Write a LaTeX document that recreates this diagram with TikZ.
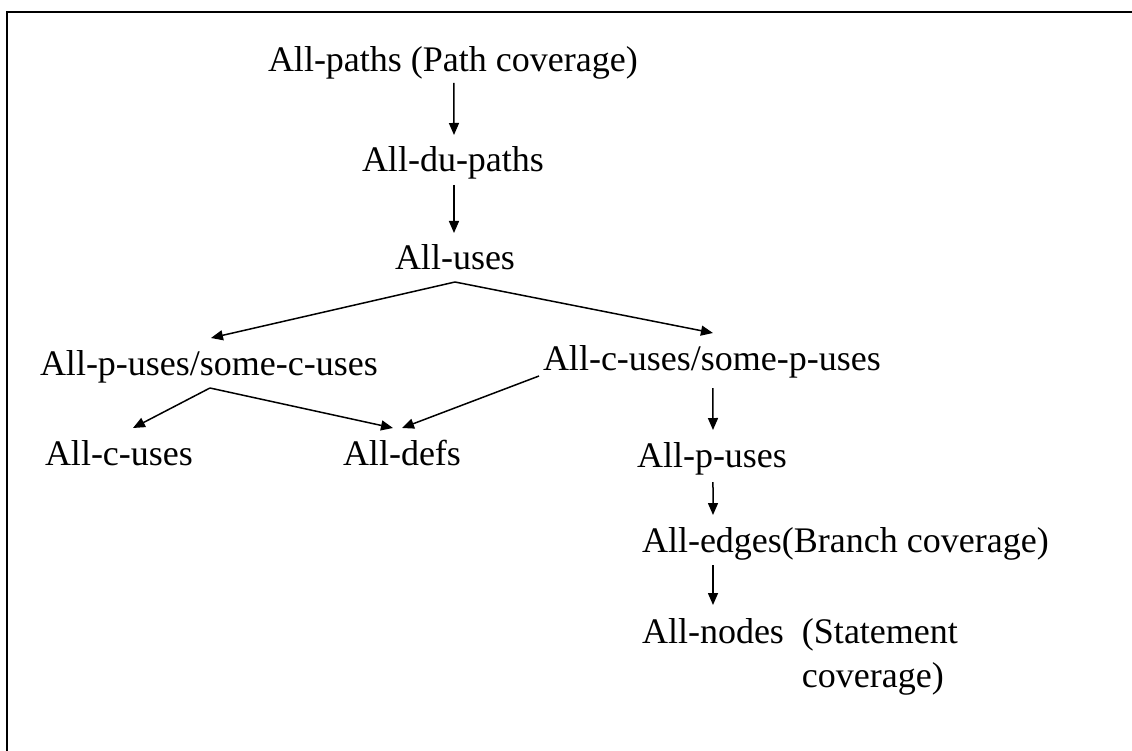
\documentclass[tikz,border=0pt]{standalone}
\usepackage{fontspec}
\setmainfont{Liberation Serif}
\usetikzlibrary{arrows.meta,calc}
\tikzset{
  lbl/.style={anchor=base west, inner sep=0pt, outer sep=0pt, font=\fontsize{36}{44}\selectfont},
  arr/.style={line width=1.5pt, -{Triangle[length=12pt,width=10pt]}},
  frame/.style={line width=1.7pt}
}
\begin{document}
\begin{tikzpicture}[x=1pt,y=-1pt]
\useasboundingbox (0,0) rectangle (1132,751);
% frame (only top and left edges visible)
\coordinate (fl) at (7,751);
\coordinate (fc) at (7,12);
\coordinate (fr) at (1132,12);
\draw[frame] (fl) -- (fc) -- (fr);

\node[lbl] (paths) at (268,72) {All-paths (Path coverage)};
\node[lbl] (du) at (362,172) {All-du-paths};
\node[lbl] (uses) at (395,270) {All-uses};
\node[lbl] (pc) at (40,375) {All-p-uses/some-c-uses};
\node[lbl] (cp) at (543,370) {All-c-uses/some-p-uses};
\node[lbl] (cu) at (45,465) {All-c-uses};
\node[lbl] (defs) at (343,465) {All-defs};
\node[lbl] (pu) at (637,467) {All-p-uses};
\node[lbl] (edges) at (642,552) {All-edges(Branch coverage)};
\node[lbl] (allnodes) at (642,643) {\begin{tabular}[t]{@{}l@{\hspace{18pt}}l@{}}All-nodes & (Statement\\ & coverage)\end{tabular}};

\draw[arr] ($(paths.base)+(1,11)$) -- ($(du.base)+(1,-37)$);
\draw[arr] ($(du.base)+(1,13)$) -- ($(du.base)+(1,61)$);
\draw[arr] ($(uses.base)+(0,12)$) -- ($(pc.base)+(2,-37)$);
\draw[arr] ($(uses.base)+(0,12)$) -- ($(cp.base)+(1,-37)$);
\draw[arr] ($(pc.base)+(1,13)$) -- ($(cu.base)+(14,-37)$);
\draw[arr] ($(pc.base)+(1,13)$) -- ($(defs.base)+(-9,-37)$);
\draw[arr] ($(cp.base west)+(-4,6)$) -- ($(defs.base)+(0,-37)$);
\draw[arr] ($(cp.base)+(1,18)$) -- ($(pu.base)+(1,-37)$);
\draw[arr] ($(pu.base)+(1,15)$) -- ($(edges.base west)+(71,-37)$);
\draw[arr] ($(edges.base west)+(71,13)$) -- ($(allnodes.base west)+(71,-38)$);
\end{tikzpicture}
\end{document}
